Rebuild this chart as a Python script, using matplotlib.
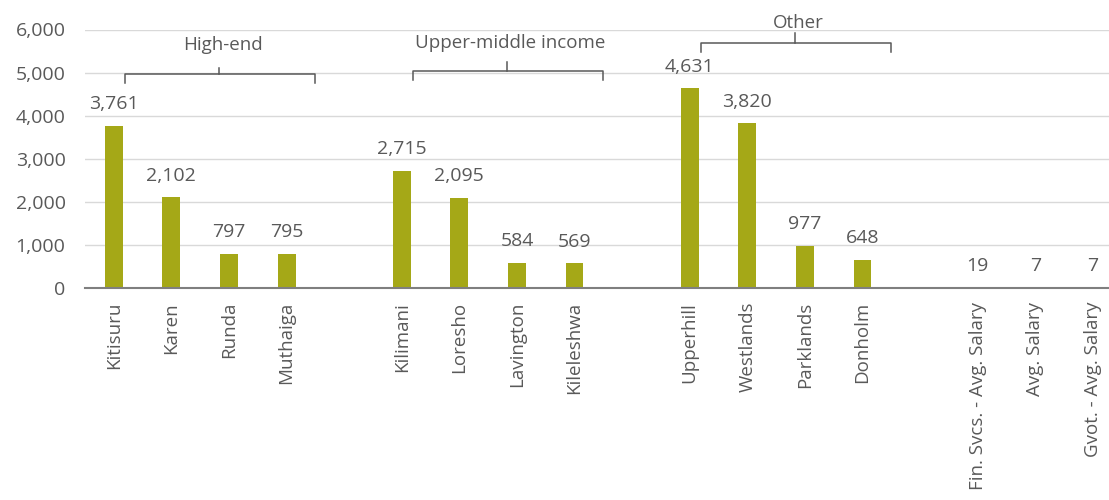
import matplotlib.pyplot as plt
import numpy as np

# Nairobi areas, blank slots separate the groups
areas = ['Kitisuru', 'Karen', 'Runda', 'Muthaiga', '',
         'Kilimani', 'Loresho', 'Lavington', 'Kileleshwa', '',
         'Upperhill', 'Westlands', 'Parklands', 'Donholm', '',
         'Fin. Svcs. - Avg. Salary', 'Avg. Salary', 'Gvot. - Avg. Salary']
values = [3761, 2102, 797, 795, None,
          2715, 2095, 584, 569, None,
          4631, 3820, 977, 648, None,
          19, 7, 7]
groups = ['High-end', 'Upper-middle income', 'Other']
group_first = [0, 5, 10]   # index of first bar in each group
group_size = 4

bar_color = '#A5A817'
text_color = '#595959'

plt.rcParams['font.family'] = ['Open Sans', 'DejaVu Sans']

fig = plt.figure(figsize=(11.09, 5), dpi=100)
ax = fig.add_axes([85/1109, 1 - 288/500, 1 - 85/1109, (288 - 29.5)/500])

x = np.arange(len(areas))
for xi, v in zip(x, values):
    if v is None:
        continue
    ax.bar(xi, v, width=0.31, color=bar_color, zorder=3)
    ax.annotate('{:,}'.format(v), (xi, v), xytext=(0, 12), textcoords='offset points',
                ha='center', va='baseline', fontsize=14, color=text_color)

ax.set_xlim(-0.5, 17.28)
ax.set_ylim(0, 6000)
ax.set_yticks(np.arange(0, 6001, 1000))
ax.set_yticklabels(['{:,}'.format(t) for t in range(0, 6001, 1000)])
ax.set_xticks(x)
ax.set_xticklabels(areas, rotation=90, va='top', ha='center')
ax.tick_params(axis='y', length=0, pad=14, labelsize=14, labelcolor=text_color)
ax.tick_params(axis='x', length=0, pad=10, labelsize=13.5, labelcolor=text_color)
ax.grid(axis='y', color='#D9D9D9', linewidth=1, zorder=0)
for side in ('left', 'right', 'top'):
    ax.spines[side].set_visible(False)
ax.spines['bottom'].set_color('#7F7F7F')
ax.spines['bottom'].set_linewidth(1.5)
ax.spines['bottom'].set_zorder(4)

# braces over each group: (tip, line, peak, label) heights in data units
brace_levels = [(4756, 4965, 5104, 5640),
                (4826, 5035, 5244, 5690),
                (5476, 5684, 5916, 6150)]
for name, first, (tip, mid, peak, lab) in zip(groups, group_first, brace_levels):
    x0 = first + 0.2
    x1 = first + group_size - 0.5
    xc = first + 1.82
    ax.plot([x0, x0, x1, x1], [tip, mid, mid, tip], color=text_color, lw=1.1,
            clip_on=False, solid_joinstyle='round')
    ax.plot([xc, xc], [mid, peak], color=text_color, lw=1.1, clip_on=False)
    ax.text(xc + 0.07, lab, name, ha='center', va='center', fontsize=13.5,
            color=text_color, clip_on=False)

plt.savefig('out.png', dpi=100)
